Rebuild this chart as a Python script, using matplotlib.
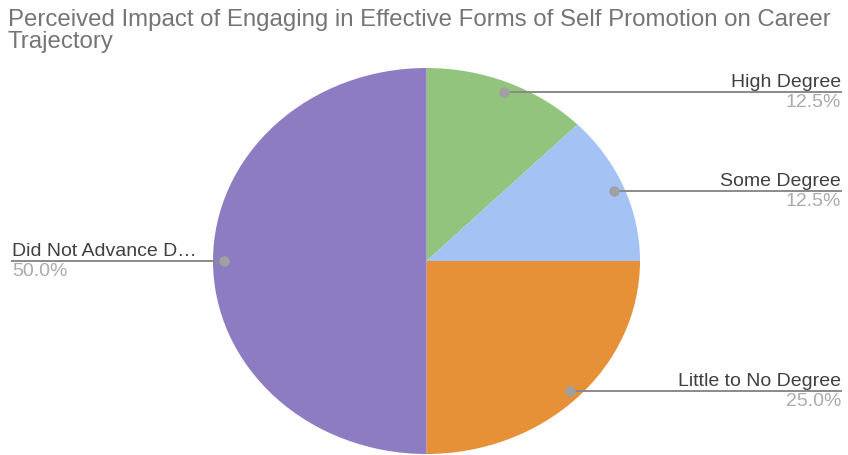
import numpy as np
import matplotlib.pyplot as plt

plt.rcParams['font.family'] = ['Liberation Sans', 'DejaVu Sans']

# 응답 비율 (12시 방향부터 시계 방향)
labels = ["High Degree", "Some Degree", "Little to No Degree", "Did Not Advance D\u2026"]
shares = [12.5, 12.5, 25.0, 50.0]
colors = ["#93c47d", "#a4c2f4", "#e69138", "#8e7cc3"]

W, H = 848, 455
fig = plt.figure(figsize=(W / 100, H / 100), dpi=100)

# 원 그래프 영역 (픽셀 기준)
left, top, right, bottom = 213, 68, 640, 454
ax = fig.add_axes([left / W, 1 - bottom / H, (right - left) / W, (bottom - top) / H])
wedges, _ = ax.pie(shares, colors=colors, startangle=90, counterclock=False,
                   wedgeprops=dict(linewidth=0))
ax.set_xlim(-1, 1)
ax.set_ylim(-1, 1)
ax.set_aspect('auto')

# 그림 x좌표(픽셀) -> 데이터 x좌표
def fig_x(px):
    disp = fig.transFigure.transform((px / W, 0))
    return ax.transData.inverted().transform(disp)[0]

for w, lab, val in zip(wedges, labels, shares):
    mid = np.deg2rad((w.theta1 + w.theta2) / 2)
    x0, y0 = 0.95 * np.cos(mid), 0.95 * np.sin(mid)
    if x0 >= 0:
        xe, ha = fig_x(841), 'right'
    else:
        xe, ha = fig_x(12), 'left'
    ax.plot([x0, xe], [y0, y0], color="#8a8a8a", lw=1.4, clip_on=False, zorder=3)
    ax.plot([x0], [y0], 'o', ms=6.5, color="#a0a0a0", clip_on=False, zorder=4)
    ax.annotate(lab, (xe, y0), xytext=(0, 3.6), textcoords='offset points',
                ha=ha, va='baseline', fontsize=14, color="#404040", annotation_clip=False)
    ax.annotate(f"{val:.1f}%", (xe, y0), xytext=(0, -11), textcoords='offset points',
                ha=ha, va='baseline', fontsize=14, color="#ababab", annotation_clip=False)

# 제목 (두 줄)
fig.text(8 / W, 1 - 26 / H,
         "Perceived Impact of Engaging in Effective Forms of Self Promotion on Career",
         ha='left', va='baseline', fontsize=17.3, color="#757575")
fig.text(8 / W, 1 - 48 / H, "Trajectory",
         ha='left', va='baseline', fontsize=17.3, color="#757575")

fig.savefig("out.png", dpi=100)
